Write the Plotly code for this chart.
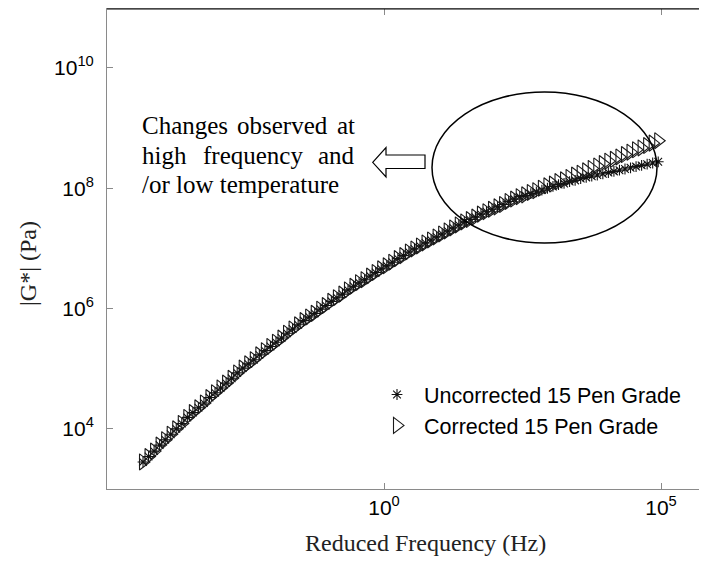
import plotly.graph_objects as go

# log10 of reduced frequency (Hz)
log_freq = [
    -4.35, -4.25, -4.15, -4.05, -3.95, -3.85, -3.75, -3.65, -3.55, -3.45,
    -3.35, -3.25, -3.15, -3.05, -2.95, -2.85, -2.75, -2.65, -2.55, -2.45,
    -2.35, -2.25, -2.15, -2.05, -1.95, -1.85, -1.75, -1.65, -1.55, -1.45,
    -1.35, -1.25, -1.15, -1.05, -0.95, -0.85, -0.75, -0.65, -0.55, -0.45,
    -0.35, -0.25, -0.15, -0.05, 0.05, 0.15, 0.25, 0.35, 0.45, 0.55,
    0.65, 0.75, 0.85, 0.95, 1.05, 1.15, 1.25, 1.35, 1.45, 1.55,
    1.65, 1.75, 1.85, 1.95, 2.05, 2.15, 2.25, 2.35, 2.45, 2.55,
    2.65, 2.75, 2.85, 2.95, 3.05, 3.15, 3.25, 3.35, 3.45, 3.55,
    3.65, 3.75, 3.85, 3.95, 4.05, 4.15, 4.25, 4.35, 4.45, 4.55,
    4.65, 4.75, 4.85, 4.95,
]

# log10 |G*| (Pa)
log_g_uncorrected = [
    3.45, 3.54, 3.63, 3.73, 3.82, 3.91, 4.00, 4.09, 4.19, 4.27,
    4.35, 4.43, 4.52, 4.60, 4.68, 4.76, 4.84, 4.93, 5.01, 5.08,
    5.15, 5.23, 5.30, 5.37, 5.44, 5.51, 5.59, 5.66, 5.73, 5.80,
    5.86, 5.92, 5.99, 6.05, 6.12, 6.18, 6.24, 6.31, 6.37, 6.43,
    6.48, 6.54, 6.60, 6.66, 6.71, 6.77, 6.83, 6.88, 6.94, 6.99,
    7.04, 7.09, 7.14, 7.19, 7.24, 7.29, 7.34, 7.39, 7.44, 7.48,
    7.52, 7.57, 7.61, 7.65, 7.69, 7.73, 7.78, 7.82, 7.86, 7.88,
    7.91, 7.94, 7.97, 8.00, 8.03, 8.06, 8.08, 8.11, 8.13, 8.16,
    8.18, 8.20, 8.22, 8.24, 8.26, 8.28, 8.30, 8.32, 8.34, 8.36,
    8.38, 8.40, 8.42, 8.44,
]

log_g_corrected = [
    3.45, 3.54, 3.63, 3.73, 3.82, 3.91, 4.00, 4.09, 4.19, 4.27,
    4.35, 4.43, 4.52, 4.60, 4.68, 4.76, 4.84, 4.93, 5.01, 5.08,
    5.15, 5.23, 5.30, 5.37, 5.44, 5.51, 5.59, 5.66, 5.73, 5.80,
    5.86, 5.92, 5.99, 6.05, 6.12, 6.18, 6.24, 6.31, 6.37, 6.43,
    6.48, 6.54, 6.60, 6.66, 6.71, 6.77, 6.83, 6.88, 6.94, 6.99,
    7.04, 7.09, 7.14, 7.19, 7.24, 7.29, 7.34, 7.39, 7.44, 7.48,
    7.52, 7.57, 7.61, 7.65, 7.69, 7.73, 7.78, 7.82, 7.86, 7.89,
    7.93, 7.96, 8.00, 8.04, 8.07, 8.11, 8.14, 8.18, 8.22, 8.25,
    8.29, 8.33, 8.37, 8.41, 8.45, 8.48, 8.52, 8.56, 8.60, 8.64,
    8.67, 8.71, 8.75, 8.79,
]

series_names = ["Uncorrected 15 Pen Grade", "Corrected 15 Pen Grade"]
x_title = "Reduced Frequency (Hz)"
y_title = "|G*| (Pa)"

x_tick_vals = [1e0, 1e5]
x_tick_text = ["10<sup>0</sup>", "10<sup>5</sup>"]
y_tick_vals = [1e4, 1e6, 1e8, 1e10]
y_tick_text = ["10<sup>4</sup>", "10<sup>6</sup>", "10<sup>8</sup>", "10<sup>10</sup>"]

freq = [10 ** v for v in log_freq]
g_unc = [10 ** v for v in log_g_uncorrected]
g_cor = [10 ** v for v in log_g_corrected]

SERIF = "Liberation Serif, Times New Roman, serif"
SANS = "Liberation Sans, Arial, Helvetica, sans-serif"
AXIS_GRAY = "#8a8a8a"

fig = go.Figure()
fig.add_trace(go.Scatter(
    x=freq, y=g_unc, mode="markers", name=series_names[0],
    legendgroup="a",
    marker=dict(symbol="asterisk-open", size=9, color="#111111",
                line=dict(color="#111111", width=1.1)),
))
fig.add_trace(go.Scatter(
    x=freq, y=g_cor, mode="markers", name=series_names[1],
    legendgroup="b",
    marker=dict(symbol="triangle-right-open", size=14, color="#1a1a1a",
                line=dict(color="#1a1a1a", width=1.1)),
))

# the page body has an 8px margin; offset the figure so the plot lands where the reference has it
OFF = 8
W, H = 707 - OFF, 561 - OFF
L, R, T = 107 - OFF, 0, 9 - OFF
B = H - T - 480
pw, ph = W - L - R, H - T - B


def px(x):
    return (x - OFF - L) / pw


def py(y):
    return (H - B - (y - OFF)) / ph


# x range: 10^0 at screen x=384, 55.4 px per decade; plot spans screen 107..707
x_lo = (107 - 384) / 55.4
x_hi = (OFF + W - 384) / 55.4

shapes = [
    dict(type="line", xref="paper", yref="paper", x0=0, x1=1, y0=1, y1=1,
         line=dict(color="black", width=1)),
    dict(type="circle", xref="paper", yref="paper",
         x0=px(432), x1=px(657), y0=py(243), y1=py(92),
         line=dict(color="black", width=1.5)),
]
arrow_pts = [(372.7, 162.3), (386, 147.5), (386, 155), (425, 155),
             (425, 168.5), (386, 168.5), (386, 177)]
path = "M " + " L ".join(f"{px(a):.4f},{py(b):.4f}" for a, b in arrow_pts) + " Z"
shapes.append(dict(type="path", xref="paper", yref="paper", path=path,
                   line=dict(color="black", width=1.2), fillcolor="white"))

ann_font = dict(family=SERIF, size=25, color="black")
annotations = []
words = [
    ("Changes", 140, "left", 125), ("observed", 282, "center", 125), ("at", 357, "right", 125),
    ("high", 140, "left", 155), ("frequency", 253, "center", 155), ("and", 357, "right", 155),
    ("/or low temperature", 140, "left", 184),
]
for text, xx, anc, yy in words:
    annotations.append(dict(text=text, xref="paper", yref="paper", x=px(xx), y=py(yy),
                            xanchor=anc, yanchor="middle", showarrow=False, font=ann_font))

title_font = dict(family=SERIF, size=24, color="#222")
annotations.append(dict(text=x_title, xref="paper", yref="paper", x=px(425.5), y=py(543),
                        xanchor="center", yanchor="middle", showarrow=False, font=title_font))
annotations.append(dict(text=y_title, xref="paper", yref="paper", x=px(28), y=py(264),
                        xanchor="center", yanchor="middle", textangle=-90,
                        showarrow=False, font=title_font))

fig.update_layout(
    width=W, height=H,
    margin=dict(l=L, r=R, t=T, b=B, autoexpand=False),
    paper_bgcolor="white", plot_bgcolor="white",
    showlegend=True,
    legend=dict(x=px(370), y=py(374), xanchor="left", yanchor="top",
                font=dict(family=SANS, size=21.5, color="black"),
                bgcolor="rgba(0,0,0,0)", traceorder="grouped", tracegroupgap=0,
                itemsizing="trace", itemwidth=44),
    shapes=shapes,
    annotations=annotations,
    xaxis=dict(
        type="log", range=[x_lo, x_hi],
        tickvals=x_tick_vals, ticktext=x_tick_text,
        ticks="inside", ticklen=6, tickcolor=AXIS_GRAY,
        showline=True, linecolor=AXIS_GRAY, linewidth=1, mirror="ticks",
        showgrid=False, zeroline=False,
        tickfont=dict(family=SANS, size=21, color="black"),
    ),
    yaxis=dict(
        type="log", range=[3.0, 10.98],
        tickvals=y_tick_vals, ticktext=y_tick_text,
        ticks="inside", ticklen=6, tickcolor=AXIS_GRAY,
        showline=True, linecolor=AXIS_GRAY, linewidth=1,
        showgrid=False, zeroline=False,
        tickfont=dict(family=SANS, size=21, color="black"),
        ticklabelstandoff=8,
    ),
)

fig.write_html("out.html")
